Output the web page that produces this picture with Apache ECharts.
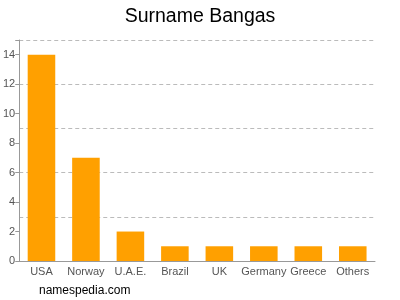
<!DOCTYPE html>
<html><head><meta charset="utf-8">
<script src="https://cdn.jsdelivr.net/npm/echarts@6/dist/echarts.min.js"></script>
<style>html,body{margin:0;padding:0;background:#fff}#c{width:400px;height:300px}</style>
</head><body><div id="c"></div>
<script>
var categories = ["USA","Norway","U.A.E.","Brazil","UK","Germany","Greece","Others"];
var values = [14,7,2,1,1,1,1,1];
var yTicks = [0,2,4,6,8,10,12,14];
var chart = echarts.init(document.getElementById('c'));
chart.setOption({
  animation:false,
  title:{text:"Surname Bangas",left:'center',top:2,textStyle:{fontFamily:"Liberation Sans, Arial",fontSize:19.5,fontWeight:'normal',color:'#000'}},
  graphic:[{type:'text',left:39,top:285,style:{text:"namespedia.com",font:"12px Liberation Sans, Arial",fill:'#000'}}],
  grid:{left:17,right:25,top:40,bottom:39},
  xAxis:{type:'category',data:categories,axisLine:{lineStyle:{color:'#999'}},axisTick:{show:false},
    axisLabel:{color:'#555',fontSize:11,fontFamily:"Liberation Sans, Arial",margin:5,interval:0}},
  yAxis:[{type:'value',min:0,max:15,interval:2,axisLine:{show:true,lineStyle:{color:'#999'}},axisTick:{show:true,length:4,lineStyle:{color:'#999'}},
      splitLine:{show:false},axisLabel:{color:'#555',fontSize:11,fontFamily:"Liberation Sans, Arial",margin:4,
      formatter:function(v){return yTicks.indexOf(v)>=0?String(v):'';}}},
    {type:'value',min:0,max:15,interval:3,position:'left',axisLine:{show:false},axisTick:{show:false},axisLabel:{show:false},
      splitLine:{show:true,lineStyle:{color:'#bbb',type:[4,3]}}}],
  series:[{type:'bar',data:values,barWidth:'62%',itemStyle:{color:'#FFA000'},yAxisIndex:0}]
});
</script></body></html>
